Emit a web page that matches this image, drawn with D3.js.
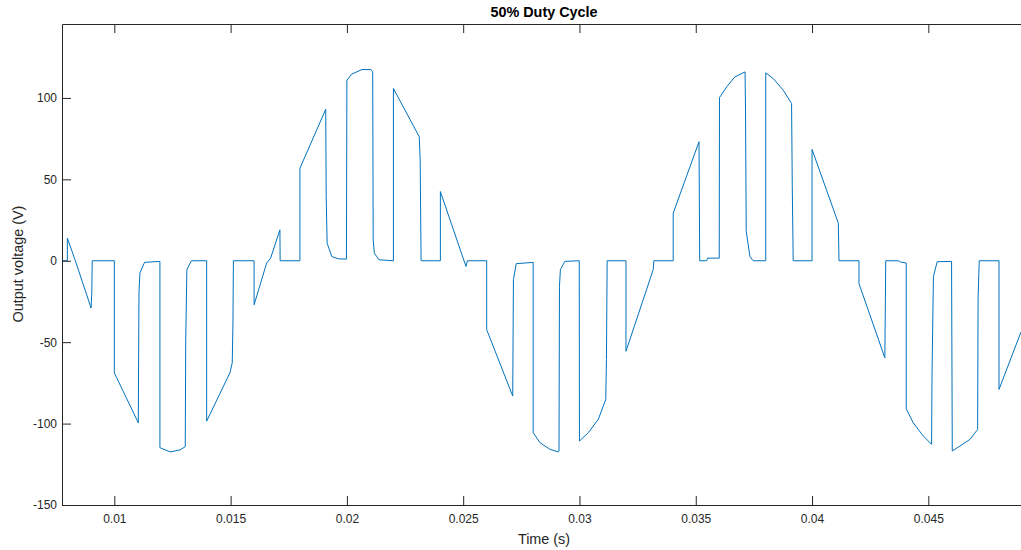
<!DOCTYPE html>
<html>
<head>
<meta charset="utf-8">
<script src="https://cdn.jsdelivr.net/npm/d3@7"></script>
<style>
  body { margin: 0; background: #fff; }
  svg { display: block; font-family: Arial, "Liberation Sans", Helvetica, sans-serif; }
</style>
</head>
<body>
<div id="chart"></div>
<script>
// waveform: time in seconds, voltage in volts
var timeS = [
  0.00775, 0.00798, 0.00798, 0.00831, 0.00900, 0.00903, 0.00905, 0.01000, 0.01000, 0.01103,
  0.01106, 0.01110, 0.01130, 0.01196, 0.01196, 0.01240, 0.01282, 0.01305, 0.01307, 0.01312,
  0.01331, 0.01397, 0.01397, 0.01497, 0.01507, 0.01510, 0.01512, 0.01601, 0.01601, 0.01655,
  0.01672, 0.01712, 0.01713, 0.01798, 0.01798, 0.01909, 0.01911, 0.01915, 0.01935, 0.01963,
  0.01998, 0.02000, 0.02021, 0.02064, 0.02104, 0.02111, 0.02113, 0.02118, 0.02138, 0.02200,
  0.02200, 0.02311, 0.02315, 0.02319, 0.02402, 0.02402, 0.02512, 0.02518, 0.02601, 0.02601,
  0.02713, 0.02716, 0.02728, 0.02801, 0.02801, 0.02830, 0.02873, 0.02909, 0.02912, 0.02914,
  0.02918, 0.02937, 0.02999, 0.03000, 0.03038, 0.03081, 0.03113, 0.03116, 0.03119, 0.03200,
  0.03200, 0.03317, 0.03320, 0.03403, 0.03403, 0.03514, 0.03517, 0.03547, 0.03551, 0.03601,
  0.03602, 0.03633, 0.03668, 0.03712, 0.03714, 0.03717, 0.03733, 0.03747, 0.03801, 0.03801,
  0.03833, 0.03876, 0.03912, 0.03915, 0.03919, 0.04000, 0.04000, 0.04113, 0.04116, 0.04202,
  0.04202, 0.04313, 0.04317, 0.04371, 0.04381, 0.04405, 0.04405, 0.04435, 0.04478, 0.04514,
  0.04516, 0.04522, 0.04538, 0.04600, 0.04603, 0.04636, 0.04679, 0.04712, 0.04714, 0.04719,
  0.04804, 0.04804, 0.04898
];
var voltageV = [
  0, 0, 13.9, 0.6, -29, -20, 0, 0, -68.8, -99.5,
  -19.8, -7.5, -1, -0.4, -114.8, -117.4, -116.2, -114.2, -48.4, -5.5,
  0, 0, -98.5, -68.8, -62.7, -38.2, 0, 0, -27, -1.4,
  1.6, 19, 0, 0, 56.8, 93, 39.4, 10.8, 2.6, 1.2,
  1, 110.9, 114.6, 117.4, 117.4, 116, 12.9, 4.7, 0.6, 0,
  105.8, 76.2, 61.9, 0, 0, 42.5, -3.5, 0, 0, -42.3,
  -83.1, -11.6, -1.8, -1, -105.6, -111.7, -115.8, -117.4, -116.8, -15.7,
  -5.5, -0.4, 0, -110.7, -105.6, -97.4, -85.2, -60.7, 0, 0,
  -55.6, -5.5, 0, 0, 29.2, 73.1, 0, 0, 1.6, 1.6,
  100.2, 106.8, 112.9, 116, 92.5, 18, 2.6, 0, 0, 115.4,
  111.9, 104.8, 96.6, 45.5, 0, 0, 68.4, 23.1, 0, 0,
  -14.1, -59.6, 0, 0, -0.8, -1.4, -90.9, -99.5, -107.6, -112.7,
  -68.8, -9.6, -0.6, -0.4, -116.8, -113.8, -109.7, -103.6, -22.9, 0,
  0, -79, -43.9
];

var xTicks = [0.01, 0.015, 0.02, 0.025, 0.03, 0.035, 0.04, 0.045];
var xTickLabels = ["0.01", "0.015", "0.02", "0.025", "0.03", "0.035", "0.04", "0.045"];
var yTicks = [-150, -100, -50, 0, 50, 100];
var yTickLabels = ["-150", "-100", "-50", "0", "50", "100"];

var width = 1021, height = 550;
var plotLeft = 62, plotTop = 24, plotRight = 1026, plotBottom = 505;
var axisColor = "#262626";

var svg = d3.select("#chart").append("svg")
  .attr("width", width)
  .attr("height", height);

var x = d3.scaleLinear().domain([0.00775, 0.0492]).range([plotLeft, plotRight]);
var y = d3.scaleLinear().domain([-150, 145.4]).range([plotBottom, plotTop]);

svg.append("clipPath").attr("id", "plotclip")
  .append("rect")
    .attr("x", plotLeft).attr("y", plotTop)
    .attr("width", plotRight - plotLeft).attr("height", plotBottom - plotTop);

// the trace
var points = timeS.map((t, i) => ({ t: t, v: voltageV[i] }));
var line = d3.line().x(d => x(d.t)).y(d => y(d.v));

svg.append("path")
  .datum(points)
  .attr("clip-path", "url(#plotclip)")
  .attr("d", line)
  .attr("fill", "none")
  .attr("stroke", "#0072BD")
  .attr("stroke-width", 1)
  .attr("stroke-linejoin", "round");

// axes, ticks pointing inward like matlab
svg.append("g")
  .attr("transform", `translate(0, ${plotBottom})`)
  .call(d3.axisBottom(x).tickValues(xTicks)
    .tickFormat((d, i) => xTickLabels[i])
    .tickSizeInner(-9).tickSizeOuter(0).tickPadding(9));

svg.append("g")
  .attr("transform", `translate(0, ${plotTop})`)
  .call(d3.axisTop(x).tickValues(xTicks).tickFormat("")
    .tickSizeInner(-9).tickSizeOuter(0));

svg.append("g")
  .attr("transform", `translate(${plotLeft}, 0)`)
  .call(d3.axisLeft(y).tickValues(yTicks)
    .tickFormat((d, i) => yTickLabels[i])
    .tickSizeInner(-9).tickSizeOuter(0).tickPadding(5));

svg.selectAll(".domain, .tick line").attr("stroke", axisColor);
svg.selectAll(".tick text")
  .attr("fill", axisColor)
  .style("font-size", "12px");

// titles
svg.append("text")
  .attr("x", (plotLeft + plotRight) / 2)
  .attr("y", 17)
  .attr("text-anchor", "middle")
  .style("font-size", "14.4px")
  .style("font-weight", "bold")
  .attr("fill", "#000")
  .text("50% Duty Cycle");

svg.append("text")
  .attr("x", (plotLeft + plotRight) / 2)
  .attr("y", 544)
  .attr("text-anchor", "middle")
  .style("font-size", "14.4px")
  .attr("fill", axisColor)
  .text("Time (s)");

svg.append("text")
  .attr("transform", "translate(23, 264) rotate(-90)")
  .attr("text-anchor", "middle")
  .style("font-size", "14.4px")
  .attr("fill", axisColor)
  .text("Output voltage (V)");
</script>
</body>
</html>
